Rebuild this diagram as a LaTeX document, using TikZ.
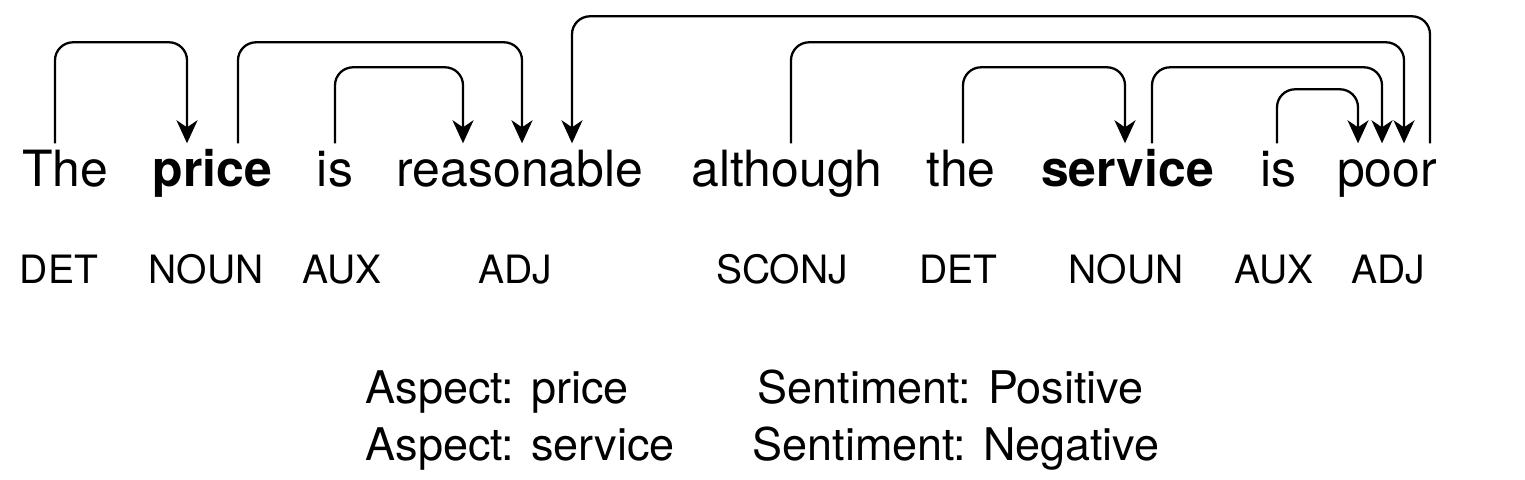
\documentclass[tikz,border=0pt]{standalone}
\usepackage{fontspec}
\setmainfont{TeX Gyre Heros}
\usepackage{tikz}
\usetikzlibrary{arrows.meta}

\tikzset{
  word/.style={anchor=base,inner xsep=0pt,inner ysep=0.05cm,text height=0.37cm,text depth=0pt,
    font=\fontsize{14.2}{17}\selectfont},
  postag/.style={anchor=base,inner sep=0pt,font=\fontsize{11.1}{13}\selectfont},
  result/.style={anchor=base west,inner sep=0pt,font=\fontsize{12.8}{15}\selectfont},
  dep/.style={-{Stealth[length=2.3mm,width=2.1mm,inset=0.7mm]},line width=0.65pt,rounded corners=1.8mm},
}

\begin{document}
\begin{tikzpicture}
  \useasboundingbox (0,0) rectangle (15.25,4.79);
  \node[word] (the)      at (0.65,2.93)   {The};
  \node[word] (price)    at (2.125,2.93)  {\textbf{price}};
  \node[word] (is1)      at (3.35,2.93)   {is};
  \node[word] (reason)   at (5.20,2.93)   {reasonable};
  \node[word] (although) at (7.87,2.93)   {although};
  \node[word] (the2)     at (9.61,2.93)   {the};
  \node[word] (service)  at (11.275,2.93) {\textbf{service}};
  \node[word] (is2)      at (12.78,2.93)  {is};
  \node[word] (poor)     at (13.87,2.93)  {poor};
  \foreach \a/\sa/\b/\sb/\h in {the/-1.0mm/price/-2.55mm/1.01,
      price/2.55mm/reason/0.2mm/1.01,
      is1/0mm/reason/-5.7mm/0.76,
      poor/4.3mm/reason/5.2mm/1.27,
      although/0.4mm/poor/1.7mm/1.01,
      the2/0.2mm/service/-0.25mm/0.76,
      service/2.45mm/poor/-0.5mm/0.76,
      is2/-0.1mm/poor/-2.9mm/0.54}{
    \draw[dep] ([xshift=\sa]\a.north) -- ++(0,\h) -| ([xshift=\sb]\b.north);
  }
  \foreach \x/\t [count=\i] in {0.59/DET,2.06/NOUN,3.42/AUX,5.15/ADJ,7.82/SCONJ,9.58/DET,11.26/NOUN,12.74/AUX,13.88/ADJ}{
    \node[postag] (pos\i) at (\x,1.96) {\t};
  }
  \node[result] (asp1) at (3.65,0.76) {Aspect: price};
  \node[result] (asp2) at (3.65,0.19) {Aspect: service};
  \node[result] (sen1) at (7.57,0.76) {Sentiment: Positive};
  \node[result] (sen2) at (7.52,0.19) {Sentiment: Negative};
\end{tikzpicture}
\end{document}
